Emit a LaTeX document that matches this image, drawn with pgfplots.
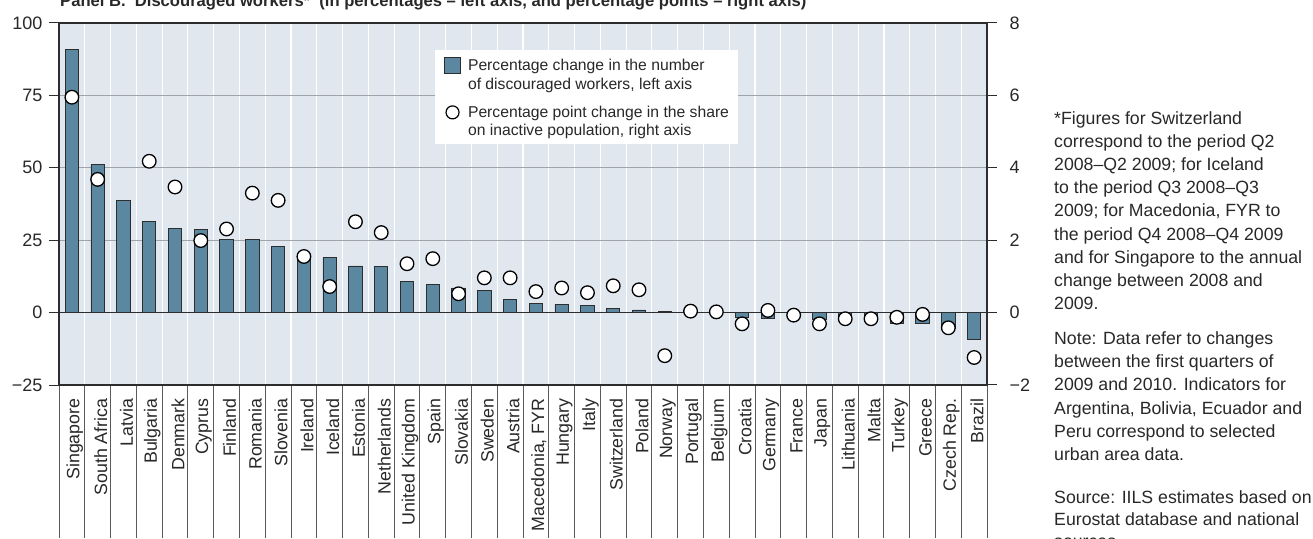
\documentclass[border=0pt]{standalone}
\usepackage{pgfplots}
\pgfplotsset{compat=1.18}
\usepackage{pgfplotstable}
\usepackage{fontspec}
\setmainfont{Liberation Sans}
\definecolor{barblue}{RGB}{91,135,160}
\definecolor{bgblue}{RGB}{225,231,239}
\definecolor{gridgray}{RGB}{158,164,170}
\definecolor{framegray}{RGB}{45,45,45}
\definecolor{sepgray}{RGB}{90,90,90}
\definecolor{txt}{RGB}{40,40,40}

\pgfplotstableread{
x bar
0 90.7
1 51.1
2 38.6
3 31.6
4 29.0
5 28.8
6 25.4
7 25.1
8 22.9
9 19.5
10 19.0
11 16.1
12 16.0
13 10.6
14 9.6
15 8.5
16 7.5
17 4.5
18 3.3
19 2.8
20 2.6
21 1.3
22 0.9
23 0.3
24 0.0
25 0.0
26 -1.6
27 -2.1
28 -0.3
29 -2.3
30 -1.5
31 -2.5
32 -3.6
33 -3.6
34 -5.5
35 -9.2
}\bardata

\pgfplotstableread{
x pt
0 5.95
1 3.68
3 4.18
4 3.47
5 1.99
6 2.31
7 3.30
8 3.10
9 1.55
10 0.72
11 2.51
12 2.21
13 1.35
14 1.49
15 0.52
16 0.96
17 0.96
18 0.58
19 0.68
20 0.55
21 0.74
22 0.63
23 -1.19
24 0.04
25 0.02
26 -0.31
27 0.06
28 -0.07
29 -0.31
30 -0.17
31 -0.17
32 -0.13
33 -0.05
34 -0.42
35 -1.24
}\ptdata

\begin{document}
\begin{tikzpicture}
% separators in the label area
\begin{axis}[
  at={(59pt,0pt)}, anchor=south west, scale only axis,
  width=928pt, height=153pt,
  xmin=-0.5, xmax=35.5, ymin=0, ymax=1,
  xtick={-0.5,0.5,...,35.5}, xticklabels={}, ytick=\empty,
  xmajorgrids, x grid style={draw=sepgray, line width=0.9pt},
  axis line style={draw=none}, xtick style={draw=none},
]
\addplot[draw=none] coordinates {(0,0.5)};
\end{axis}

% left axis with bars
\begin{axis}[
  at={(59pt,153pt)}, anchor=south west, scale only axis,
  width=928pt, height=362pt,
  xmin=-0.5, xmax=35.5, ymin=-25, ymax=100,
  axis background/.style={fill=bgblue},
  axis line style={draw=framegray, line width=1.5pt},
  xtick={-0.5,0.5,...,35.5}, xticklabels={}, xtick style={draw=none},
  xmajorgrids, x grid style={draw=white, line width=1.2pt},
  extra x ticks={0,1,...,35},
  extra x tick labels={Singapore,South Africa,Latvia,Bulgaria,Denmark,Cyprus,Finland,Romania,Slovenia,Ireland,Iceland,Estonia,Netherlands,United Kingdom,Spain,Slovakia,Sweden,Austria,{Macedonia, FYR},Hungary,Italy,Switzerland,Poland,Norway,Portugal,Belgium,Croatia,Germany,France,Japan,Lithuania,Malta,Turkey,Greece,Czech Rep.,Brazil},
  extra x tick style={grid=none},
  x tick label style={rotate=90, anchor=east, yshift=-3pt, font=\fontsize{17.8}{20}\selectfont, text=txt},
  ytick={-25,0,25,50,75,100}, yticklabels={−25,0,25,50,75,100},
  ymajorgrids, y grid style={draw=gridgray, line width=1pt},
  ytick pos=left, tick align=outside, major tick length=10pt,
  ytick style={draw=framegray, line width=1pt},
  y tick label style={font=\fontsize{18}{20}\selectfont, text=txt, xshift=-3pt},
  legend style={at={(0.405,0.925)}, anchor=north west, draw=none, fill=white,
    inner xsep=9pt, inner ysep=7pt, row sep=14.5pt, column sep=7pt,
    font=\fontsize{15.7}{18.5}\selectfont, text=txt,
    nodes={inner sep=0pt},
    cells={anchor=west, align=left}},
]
\addlegendimage{legend image code/.code={\draw[fill=barblue,draw=framegray,line width=1pt] (0pt,1.25pt) rectangle (16pt,17.25pt);}}
\addlegendentry{Percentage change in the number\\of discouraged workers, left axis}
\addlegendimage{legend image code/.code={\draw[fill=white,draw=black,line width=1.2pt] (8pt,9.25pt) circle (6.5pt);}}
\addlegendentry{Percentage point change in the share\\on inactive population, right axis}

\addplot[ybar, bar width=0.52, bar shift=0pt, fill=barblue, draw=framegray, line width=0.9pt, forget plot] table[x=x, y=bar] {\bardata};
\addplot[framegray, line width=1.3pt, forget plot] coordinates {(-0.5,0) (35.5,0)};
\end{axis}

% right axis with circles
\begin{axis}[
  at={(59pt,153pt)}, anchor=south west, scale only axis,
  width=928pt, height=362pt,
  xmin=-0.5, xmax=35.5, ymin=-2, ymax=8,
  axis y line*=right, axis x line=none,
  ytick={-2,0,2,4,6,8}, yticklabels={−2,0,2,4,6,8},
  tick align=outside, major tick length=10pt,
  ytick style={draw=framegray, line width=1pt},
  axis line style={draw=framegray, line width=1.5pt},
  y tick label style={font=\fontsize{18}{20}\selectfont, text=txt, xshift=9pt},
]
\addplot[only marks, mark=*, mark size=6.8pt, mark options={fill=white, draw=black, line width=1.3pt}] table[x=x, y=pt] {\ptdata};
\end{axis}

% title
\node[anchor=base west, inner sep=0pt, font=\bfseries\fontsize{16.6}{18}\selectfont, text=txt] at (60pt,531pt)
  {Panel B.\ \ Discouraged workers*\ \ (in percentages – left axis, and percentage points – right axis)};

% notes
\node[anchor=north west, inner sep=0pt, align=left, font=\fontsize{17.7}{23.2}\selectfont, text=txt] at (1054pt,427pt)
  {*Figures for Switzerland\\correspond to the period Q2\\2008–Q2 2009; for Iceland\\to the period Q3 2008–Q3\\2009; for Macedonia, FYR to\\the period Q4 2008–Q4 2009\\and for Singapore to the annual\\change between 2008 and\\2009.};
\node[anchor=north west, inner sep=0pt, align=left, font=\fontsize{17.7}{23.2}\selectfont, text=txt] at (1054pt,206.5pt)
  {Note: Data refer to changes\\between the first quarters of\\2009 and 2010. Indicators for\\Argentina, Bolivia, Ecuador and\\Peru correspond to selected\\urban area data.};
\node[anchor=north west, inner sep=0pt, align=left, font=\fontsize{17.7}{21.8}\selectfont, text=txt] at (1054pt,47.5pt)
  {Source: IILS estimates based on\\Eurostat database and national\\sources.};

\pgfresetboundingbox
\path[use as bounding box] (0pt,0pt) rectangle (1313pt,538pt);
\end{tikzpicture}
\end{document}
